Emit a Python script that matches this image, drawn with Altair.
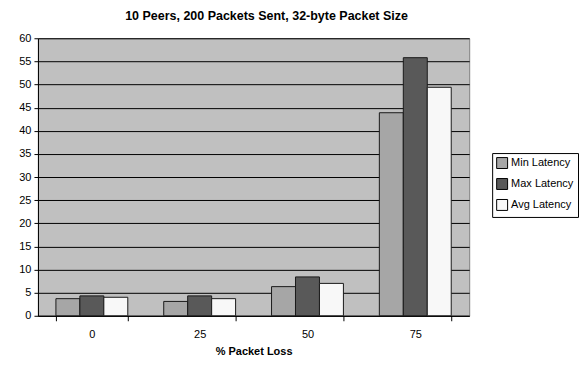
import altair as alt
import pandas as pd

categories = ["0", "25", "50", "75"]
series = ["Min Latency", "Max Latency", "Avg Latency"]
min_latency = [3.7, 3.1, 6.3, 43.9]
max_latency = [4.3, 4.3, 8.4, 55.8]
avg_latency = [4.0, 3.7, 7.0, 49.4]
colors = ["#a6a6a6", "#595959", "#f8f8f8"]

rows = []
for i, c in enumerate(categories):
    for s, vals in zip(series, [min_latency, max_latency, avg_latency]):
        rows.append({"loss": c, "series": s, "value": vals[i]})
df = pd.DataFrame(rows)

font = "Liberation Sans"

chart = alt.Chart(df).mark_bar(stroke="#1a1a1a", strokeWidth=1).encode(
    x=alt.X("loss:N", sort=categories, title="% Packet Loss",
            scale=alt.Scale(paddingInner=1/3, paddingOuter=1/6),
            axis=alt.Axis(labelAngle=0, tickBand="extent", grid=False, domainColor="#000", tickColor="#000",
                          labelFont=font, labelFontSize=11, labelColor="#000", labelPadding=8,
                          titleFont=font, titleFontSize=11, titleFontWeight="bold", titleColor="#000",
                          titlePadding=6, tickSize=5)),
    xOffset=alt.XOffset("series:N", sort=series),
    y=alt.Y("value:Q", title=None,
            scale=alt.Scale(domain=[0, 60], nice=False),
            axis=alt.Axis(values=list(range(0, 61, 5)), grid=True, gridColor="#000", gridOpacity=1,
                          domainColor="#000", tickColor="#000", tickSize=4,
                          labelFont=font, labelFontSize=11, labelColor="#000", labelPadding=3)),
    color=alt.Color("series:N", sort=series, title=None,
                    scale=alt.Scale(domain=series, range=colors),
                    legend=alt.Legend(orient="none", legendX=455, legendY=115, symbolType="square",
                                      symbolSize=120, symbolStrokeColor="#000", symbolStrokeWidth=1,
                                      labelFont=font, labelFontSize=11, labelColor="#000",
                                      strokeColor="#000", fillColor="#ffffff", padding=4,
                                      rowPadding=5, labelOffset=3)),
).properties(
    width=432, height=278,
    title=alt.TitleParams("10 Peers, 200 Packets Sent, 32-byte Packet Size", font=font, fontSize=12.5,
                          fontWeight="bold", color="#000", anchor="middle", offset=10, dx=13),
    autosize=alt.AutoSizeParams(type="none"),
    padding={"left": 30, "top": 30, "right": 110, "bottom": 45},
    background="#ffffff",
).configure_view(fill="#c0c0c0", stroke="#808080", strokeWidth=1)

chart.save("out.html", embed_options={"renderer": "svg", "actions": False})
